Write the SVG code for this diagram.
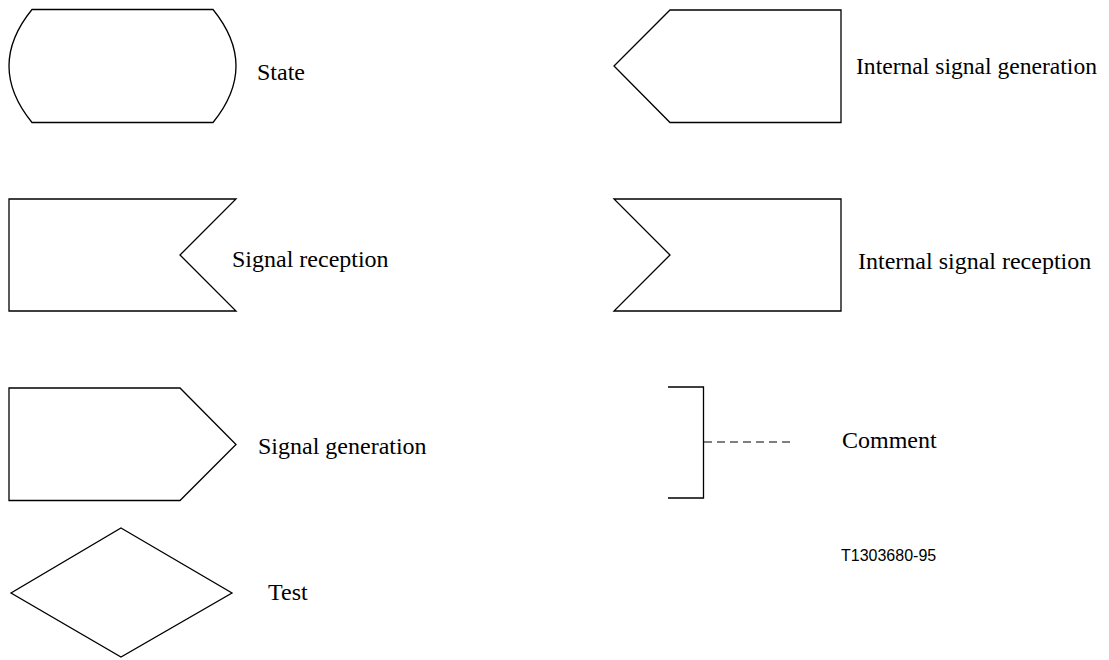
<svg xmlns="http://www.w3.org/2000/svg" width="1109" height="660" viewBox="0 0 1109 660">
<style>
.s{fill:none;stroke:#000;stroke-width:1.3;stroke-linejoin:miter}
.t{font-family:"Liberation Serif","Times New Roman",serif;font-size:24px;fill:#000}
.c{font-family:"Liberation Sans",Arial,sans-serif;font-size:16px;fill:#000}
</style>
<rect width="1109" height="660" fill="#fff"/>
<g id="state">
<path class="s" d="M32,9.5 L213,9.5 Q259,66 213,122.5 L32,122.5 Q-14,66 32,9.5 Z"/>
<text class="t" x="257" y="79.5">State</text>
</g>
<g id="internal-signal-generation">
<path class="s" d="M670,10 L841,10 L841,122.5 L670,122.5 L614,66 Z"/>
<text class="t" x="856" y="74" textLength="241" lengthAdjust="spacingAndGlyphs">Internal signal generation</text>
</g>
<g id="signal-reception">
<path class="s" d="M9,199 L236,199 L180,255 L236,311 L9,311 Z"/>
<text class="t" x="232" y="267">Signal reception</text>
</g>
<g id="internal-signal-reception">
<path class="s" d="M614,199 L841,199 L841,311 L614,311 L670,255 Z"/>
<text class="t" x="858" y="269">Internal signal reception</text>
</g>
<g id="signal-generation">
<path class="s" d="M9,388 L180,388 L236,444.5 L180,500.5 L9,500.5 Z"/>
<text class="t" x="258" y="454">Signal generation</text>
</g>
<g id="comment">
<path class="s" d="M668,387 L703.5,387 L703.5,498 L668,498"/>
<text class="t" x="842" y="448">Comment</text>
</g>
<g id="test">
<path class="s" d="M121,528 L232,593 L121,657 L11,593 Z"/>
<text class="t" x="268" y="600">Test</text>
</g>
<g id="connectors">
<line x1="704" y1="442" x2="793" y2="442" stroke="#000" stroke-width="1.2" stroke-dasharray="8,5"/>
</g>
<text class="c" x="841" y="561">T1303680-95</text>
</svg>
